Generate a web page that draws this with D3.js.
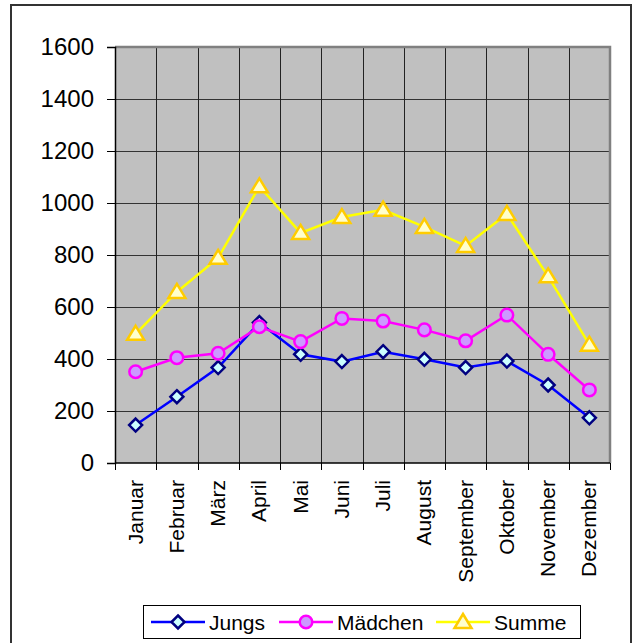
<!DOCTYPE html>
<html>
<head>
<meta charset="utf-8">
<script src="https://cdn.jsdelivr.net/npm/d3@7"></script>
<style>
  body { margin: 0; background: #fff; }
  svg { display: block; font-family: "Liberation Sans", Arial, sans-serif; }
</style>
</head>
<body>
<div id="chart"></div>
<script>
var months = ['Januar', 'Februar', 'März', 'April', 'Mai', 'Juni', 'Juli', 'August', 'September', 'Oktober', 'November', 'Dezember'];
var jungs = [146, 255, 367, 540, 418, 390, 428, 399, 367, 392, 300, 174];
var maedchen = [351, 405, 422, 524, 467, 556, 546, 512, 470, 569, 418, 281];
var summe = [497, 658, 789, 1064, 885, 946, 974, 908, 835, 958, 718, 455];
var yTicks = [0, 200, 400, 600, 800, 1000, 1200, 1400, 1600];

var width = 635, height = 643;
var plot = { left: 115, right: 610, top: 47, bottom: 463 };

var svg = d3.select('#chart').append('svg')
  .attr('width', width)
  .attr('height', height);

// outer frame (bottom edge runs off the picture)
svg.append('rect')
  .attr('x', 11).attr('y', 5)
  .attr('width', 620).attr('height', 660)
  .attr('fill', '#fff')
  .attr('stroke', '#333')
  .attr('stroke-width', 2);

var x = d3.scaleBand().domain(months).range([plot.left, plot.right]).padding(0);
var y = d3.scaleLinear().domain([0, 1600]).range([plot.bottom, plot.top]);

// plot background
svg.append('rect')
  .attr('x', plot.left).attr('y', plot.top)
  .attr('width', plot.right - plot.left).attr('height', plot.bottom - plot.top)
  .attr('fill', '#c0c0c0');

// horizontal gridlines
svg.append('g').selectAll('line')
  .data(yTicks.slice(1))
  .enter().append('line')
  .attr('x1', plot.left).attr('x2', plot.right)
  .attr('y1', function (d) { return y(d) + 0.5; })
  .attr('y2', function (d) { return y(d) + 0.5; })
  .attr('stroke', '#333').attr('stroke-width', 1);

// vertical gridlines at category boundaries
svg.append('g').selectAll('line')
  .data(months.slice(1))
  .enter().append('line')
  .attr('x1', function (d) { return Math.round(x(d)) + 0.5; })
  .attr('x2', function (d) { return Math.round(x(d)) + 0.5; })
  .attr('y1', plot.top).attr('y2', plot.bottom)
  .attr('stroke', '#222').attr('stroke-width', 1);

// plot border top / right
svg.append('path')
  .attr('d', 'M' + plot.left + ',' + (plot.top) + 'H' + (plot.right) + 'V' + plot.bottom)
  .attr('fill', 'none')
  .attr('stroke', '#808080')
  .attr('stroke-width', 2.5);

// y axis
var yAxis = svg.append('g')
  .attr('transform', 'translate(' + plot.left + ',0)')
  .call(d3.axisLeft(y).tickValues(yTicks).tickSize(8).tickPadding(13).tickFormat(d3.format('d')));
yAxis.select('.domain').attr('stroke', '#000').attr('stroke-width', 1.5);
yAxis.selectAll('.tick line').attr('stroke', '#000').attr('stroke-width', 1);
yAxis.selectAll('text').attr('font-size', 24).attr('fill', '#000')
  .attr('font-family', '"Liberation Sans", Arial, sans-serif');

// x axis: ticks at boundaries
var xAxisG = svg.append('g');
xAxisG.append('line')
  .attr('x1', plot.left).attr('x2', plot.right)
  .attr('y1', plot.bottom).attr('y2', plot.bottom)
  .attr('stroke', '#000').attr('stroke-width', 1.5);
xAxisG.selectAll('line.tk')
  .data(months.concat(['end']))
  .enter().append('line')
  .attr('class', 'tk')
  .attr('x1', function (d, i) { return Math.round(i < months.length ? x(d) : plot.right) + 0.5; })
  .attr('x2', function (d, i) { return Math.round(i < months.length ? x(d) : plot.right) + 0.5; })
  .attr('y1', plot.bottom).attr('y2', plot.bottom + 7)
  .attr('stroke', '#000').attr('stroke-width', 1);
xAxisG.selectAll('text')
  .data(months)
  .enter().append('text')
  .attr('transform', function (d) {
    return 'translate(' + (x(d) + x.bandwidth() / 2 + 7) + ',' + 480 + ') rotate(-90)';
  })
  .attr('text-anchor', 'end')
  .attr('font-size', 21)
  .attr('fill', '#000')
  .text(function (d) { return d; });

// series
var series = [
  { name: 'Jungs', values: jungs, line: '#0000ff', fill: '#ccffff', stroke: '#000080', symbol: 'diamond' },
  { name: 'Mädchen', values: maedchen, line: '#ff00ff', fill: '#cc99ff', stroke: '#ff00ff', symbol: 'circle' },
  { name: 'Summe', values: summe, line: '#ffff00', fill: '#ffffcc', stroke: '#ffcc00', symbol: 'triangle' }
];

function markerPath(sym) {
  if (sym === 'diamond') return 'M0,-6.5L6.5,0L0,6.5L-6.5,0Z';
  if (sym === 'circle') return d3.symbol().type(d3.symbolCircle).size(Math.PI * 6.3 * 6.3)();
  return 'M0,-8L8.5,6L-8.5,6Z';
}

var line = d3.line()
  .x(function (d, i) { return x(months[i]) + x.bandwidth() / 2; })
  .y(function (d) { return y(d); });

series.forEach(function (s) {
  svg.append('path')
    .attr('d', line(s.values))
    .attr('fill', 'none')
    .attr('stroke', s.line)
    .attr('stroke-width', 2.5);
});

series.forEach(function (s) {
  svg.append('g').selectAll('path')
    .data(s.values)
    .enter().append('path')
    .attr('transform', function (d, i) {
      return 'translate(' + (x(months[i]) + x.bandwidth() / 2) + ',' + y(d) + ')';
    })
    .attr('d', markerPath(s.symbol))
    .attr('fill', s.fill)
    .attr('stroke', s.stroke)
    .attr('stroke-width', 2.5);
});

// legend
var legend = svg.append('g');
legend.append('rect')
  .attr('x', 143.5).attr('y', 605.5)
  .attr('width', 437).attr('height', 33)
  .attr('fill', '#fff')
  .attr('stroke', '#000')
  .attr('stroke-width', 1);

var legendX = [151, 279, 436];
series.forEach(function (s, i) {
  var lx = legendX[i];
  var g = legend.append('g').attr('transform', 'translate(' + lx + ',622)');
  g.append('line')
    .attr('x1', 0).attr('x2', 54)
    .attr('stroke', s.line).attr('stroke-width', 2.5);
  g.append('path')
    .attr('transform', 'translate(27,0)')
    .attr('d', markerPath(s.symbol))
    .attr('fill', s.fill)
    .attr('stroke', s.stroke)
    .attr('stroke-width', 2.5);
  g.append('text')
    .attr('x', 58).attr('y', 7.5)
    .attr('font-size', 21)
    .attr('fill', '#000')
    .text(s.name);
});
</script>
</body>
</html>
